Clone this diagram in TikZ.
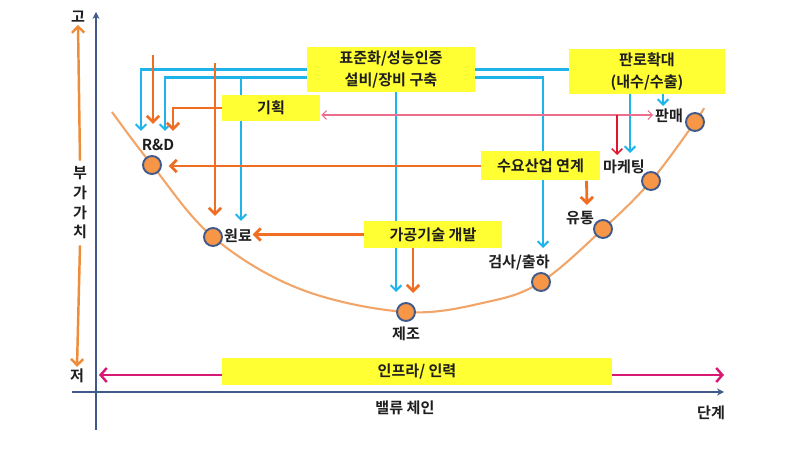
\documentclass[tikz,border=0pt]{standalone}
\usepackage{fontspec}
\setmainfont{Noto Sans CJK KR}[BoldFont=* Bold]
\usetikzlibrary{arrows.meta,calc}
\definecolor{lemon}{RGB}{255, 255, 51}
\definecolor{sky}{RGB}{30, 180, 235}
\definecolor{tangerine}{RGB}{240, 110, 35}
\definecolor{peach}{RGB}{242, 165, 105}
\definecolor{apricot}{RGB}{247, 150, 70}
\definecolor{slate}{RGB}{65, 90, 140}
\definecolor{raspberry}{RGB}{215, 25, 115}
\definecolor{blush}{RGB}{235, 110, 140}
\definecolor{crimson}{RGB}{225, 20, 45}
\definecolor{amber}{RGB}{240, 140, 55}
\definecolor{ink}{RGB}{30, 30, 30}
\pgfdeclarelayer{back}
\pgfsetlayers{back,main}

\begin{document}
\begin{tikzpicture}[x=0.02cm, y=-0.02cm,
    every node/.style={text=ink, font=\fontsize{8.6pt}{12.5pt}\selectfont\bfseries},
    box/.style={fill=lemon, inner sep=0pt, align=center},
    dot/.style={circle, fill=apricot, draw=slate, line width=1.1pt, minimum size=0.36cm, inner sep=0pt},
    lbl/.style={inner sep=1pt},
    skyline/.style={draw=sky, line width=1.2pt, -{Straight Barb[length=3pt,width=6pt]}},
    orline/.style={draw=tangerine, line width=1.6pt, -{Straight Barb[length=3.5pt,width=7pt]}},
    axisline/.style={draw=slate, line width=1.4pt}]
            \useasboundingbox (0,0) rectangle (785,462);

            \node[box, minimum width=3.36cm, minimum height=0.90cm] (std)    at (391, 69.5) {표준화/성능인증\\설비/장비 구축};
            \node[box, minimum width=3.12cm, minimum height=0.90cm] (sales)  at (647, 71.5) {판로확대\\(내수/수출)};
            \node[box, minimum width=1.96cm, minimum height=0.52cm] (plan)   at (271,108.0) {기획};
            \node[box, minimum width=2.38cm, minimum height=0.58cm] (demand) at (540.5,166) {수요산업 연계};
            \node[box, minimum width=2.76cm, minimum height=0.54cm] (proc)   at (433,234.5) {가공기술 개발};
            \node[box, minimum width=7.80cm, minimum height=0.54cm] (infra)  at (417,371.5) {인프라/ 인력};

            \node[dot] (d1) at (152,165) {};
            \node[dot] (d2) at (213,237) {};
            \node[dot] (d3) at (406,312) {};
            \node[dot] (d4) at (541,282) {};
            \node[dot] (d5) at (603,229) {};
            \node[dot] (d6) at (651,181) {};
            \node[dot] (d7) at (695,122) {};

            \node[lbl] (rnd)  at (158,145) {R\&D};
            \node[lbl] (raw)  at (238,236) {원료};
            \node[lbl] (mfg)  at (406,334) {제조};
            \node[lbl] (insp) at (519,263) {검사/출하};
            \node[lbl] (dist) at (580,218) {유통};
            \node[lbl] (mkt)  at (624,167) {마케팅};
            \node[lbl] (sell) at (669,116) {판매};

            \node[lbl] (hi)   at ( 78, 17) {고};
            \node[lbl] (lo)   at ( 77,376) {저};
            \node[align=center, font=\fontsize{8.6pt}{11.2pt}\selectfont\bfseries] (vaxis) at (80,203) {부\\가\\가\\치};
            \node[lbl] (chain) at (405,408) {밸류 체인};
            \node[lbl] (stage) at (711,413) {단계};

            \coordinate (o1top) at (153, 55);
            \coordinate (o2top) at (215, 63);
            \coordinate (j1)    at (241, 77.5);
            \coordinate (j2)    at (617,115);

            \begin{pgfonlayer}{back}
            \draw[axisline, -{Stealth[length=4pt,width=4pt]}] (96,430) -- (96,12);
            \draw[axisline, -{Stealth[length=4pt,width=4pt]}] (72,392) -- (724,392);
            \draw[draw=raspberry, line width=1.4pt, {Straight Barb[length=3.5pt,width=8pt]}-{Straight Barb[length=3.5pt,width=8pt]}] (99,375) -- (724,375);
            \draw[draw=amber, line width=1.4pt, -{Straight Barb[length=3.5pt,width=7pt]}] (vaxis.north) -- (hi.south);
            \draw[draw=amber, line width=1.4pt, -{Straight Barb[length=3.5pt,width=7pt]}] (vaxis.south) -- (lo.north);

            \draw[draw=peach, line width=1.2pt] plot[smooth, tension=0.6] coordinates
                 {(112,112) (152,165) (213,237) (300,289) (406,312) (487,302) (541,282) (603,229) (651,181) (695,122) (704,108)};

            \draw[skyline] (std.west) -| ($(d1)+(-11,-34)$);
            \draw[skyline] ($(std.west)+(0,8)$) -| ($(d1)+(13,-34)$);
            \draw[skyline] (j1) -- ($(d2)+(28,-16)$);
            \draw[skyline] ($(std.south)+(5,0)$) -- ($(d3)+(-10,-20)$);
            \draw[skyline, -] (std.east) -- (std.east -| sales.west);
            \draw[skyline] ($(std.east)+(0,8)$) -| ($(d4)+(2,-34)$);
            \draw[skyline] ($(sales.south)+(-17,0)$) -- ($(d6)+(-21,-28)$);
            \draw[skyline] ($(sales.south)+(16,0)$) -- ($(d7)+(-32,-16)$);

            \draw[orline] (o1top) -- ($(d1)+(1,-41)$);
            \draw[orline] (o2top) -- ($(d2)+(2,-21)$);
            \draw[orline] (plan.west) -| ($(d1)+(21,-34)$);
            \draw[orline] (demand.west) -- ($(demand.west)+(-312,0)$);
            \draw[orline] ($(demand.south)+(46,0)$) -- ($(d5)+(-16,-24)$);
            \draw[orline] (proc.west) -- ($(proc.west)+(-111,0)$);
            \draw[orline] ($(proc.south)+(-20,0)$) -- ($(d3)+(7,-19)$);

            \draw[draw=blush, line width=0.6pt, {Straight Barb[length=2.5pt,width=5pt]}-{Straight Barb[length=2.5pt,width=5pt]}]
                 ($(plan.east)+(1,7)$) -- ($(d7)+(-42,-7)$);
            \draw[draw=crimson, line width=0.9pt, -{Straight Barb[length=3pt,width=6pt]}] (j2) -- ($(d6)+(-34,-26)$);
            \end{pgfonlayer}
        \end{tikzpicture}
\end{document}
